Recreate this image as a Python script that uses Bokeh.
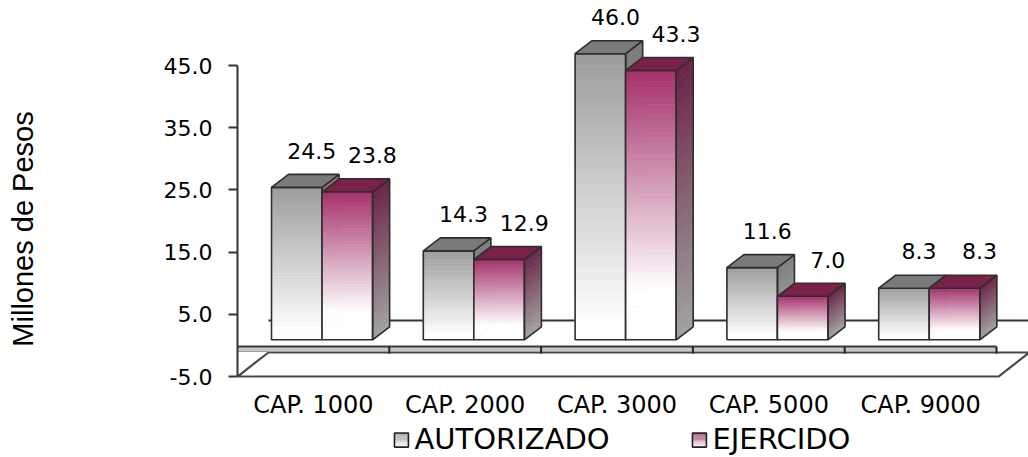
import numpy as np
from bokeh.plotting import figure
from bokeh.models import Range1d, FixedTicker, PrintfTickFormatter
from bokeh.core.properties import value
from bokeh.embed import file_html
from bokeh.resources import INLINE

# ---- data -------------------------------------------------------------
categories = ["CAP. 1000", "CAP. 2000", "CAP. 3000", "CAP. 5000", "CAP. 9000"]
autorizado = [24.5, 14.3, 46.0, 11.6, 8.3]
ejercido = [23.8, 12.9, 43.3, 7.0, 8.3]
series_names = ["AUTORIZADO", "EJERCIDO"]
y_ticks = [-5, 5, 15, 25, 35, 45]
y_title = "Millones de Pesos"

# ---- geometry of the pseudo-3D scene (category units / value units) ---
BAR_OFF = 0.224      # gap between category start and first bar
BAR_W = 0.333        # width of one bar face
DEPTH_X = 0.112      # horizontal depth of a bar
DEPTH_Y = 2.09       # vertical depth of a bar
BASE = 0.9           # where the bar fronts stand on the value scale
FLOOR_DX, FLOOR_DY = 0.204, 3.86
N_STRIPES = 48

WHITE = (255, 255, 255)


def rgb(h):
    h = h.lstrip("#")
    return tuple(int(h[i:i + 2], 16) for i in (0, 2, 4))


def mix(c1, c2, t):
    a, b = rgb(c1) if isinstance(c1, str) else c1, rgb(c2) if isinstance(c2, str) else c2
    t = max(0.0, min(1.0, t))
    return "#%02x%02x%02x" % tuple(int(round(a[i] + (b[i] - a[i]) * t)) for i in range(3))


FONT = value("DejaVu Sans")

p = figure(width=1028, height=457, output_backend="svg", toolbar_location=None,
           x_range=Range1d(0, 791 / 151.8), y_range=Range1d(-18.02, 55.45),
           x_axis_location=None, min_border_left=237, min_border_right=0,
           min_border_top=0, min_border_bottom=0)
p.xgrid.visible = False
p.ygrid.visible = False
p.outline_line_color = None
p.background_fill_color = "white"
p.border_fill_color = "white"

ax = p.yaxis[0]
ax.ticker = FixedTicker(ticks=y_ticks)
ax.formatter = PrintfTickFormatter(format="%.1f")
ax.bounds = (y_ticks[0], y_ticks[-1])
ax.axis_line_color = "#333333"
ax.axis_line_width = 2
ax.major_tick_line_color = "#333333"
ax.major_tick_line_width = 2
ax.major_tick_out = 9
ax.major_tick_in = 0
ax.minor_tick_out = 0
ax.minor_tick_in = 0
ax.major_label_standoff = 16
ax.major_label_text_font = "DejaVu Sans"
ax.major_label_text_font_size = "22px"
ax.major_label_text_color = "#000000"
ax.axis_label = y_title
ax.axis_label_text_font = "Liberation Sans"
ax.axis_label_text_font_size = "29px"
ax.axis_label_text_font_style = "normal"
ax.axis_label_text_color = "#000000"
ax.axis_label_standoff = 122

n = len(categories)
ymin = y_ticks[0]

# ---- floor, axis slab and back wall line ------------------------------
floor_right = n + 0.013
p.patch([0, floor_right, floor_right + FLOOR_DX, FLOOR_DX],
        [ymin, ymin, ymin + FLOOR_DY, ymin + FLOOR_DY],
        fill_color="white", line_color="#4a4a4a", line_width=2.2)
p.quad(left=[0], right=[n], top=[-0.18], bottom=[-0.98],
       fill_color="#c6c6c6", line_color=None)
p.segment(x0=[0], y0=[-0.18], x1=[n], y1=[-0.18], line_color="#3a3a3a", line_width=2)
p.segment(x0=[0], y0=[-0.98], x1=[n], y1=[-0.98], line_color="#a0a0a0", line_width=1)
bounds = list(range(1, n + 1))
p.segment(x0=bounds, y0=[-0.18] * n, x1=bounds, y1=[-1.3] * n,
          line_color="#222222", line_width=2)
p.segment(x0=[FLOOR_DX], y0=[4.0], x1=[6.0], y1=[4.0],
          line_color="#333333", line_width=2)


def draw_series(vals, slot, front_top, fade, side_top, side_bottom, top_color):
    L, R, T, B, C = [], [], [], [], []
    sx, sy, sc = [], [], []
    ox, oy = [], []
    tx, ty = [], []
    for i, v in enumerate(vals):
        x0 = i + BAR_OFF + slot * BAR_W
        x1 = x0 + BAR_W
        top = BASE + v
        for k in range(N_STRIPES):
            hi = top - v * k / N_STRIPES
            lo = top - v * (k + 1) / N_STRIPES
            f = (k + 0.5) / N_STRIPES
            L.append(x0); R.append(x1); T.append(hi); B.append(lo)
            C.append(mix(front_top, WHITE, f / fade))
            sx.append([x1, x1 + DEPTH_X, x1 + DEPTH_X, x1])
            sy.append([lo, lo + DEPTH_Y, hi + DEPTH_Y, hi])
            sc.append(mix(side_top, side_bottom, f))
        ox.append([x1, x1 + DEPTH_X, x1 + DEPTH_X, x1])
        oy.append([BASE, BASE + DEPTH_Y, top + DEPTH_Y, top])
        tx.append([x0, x1, x1 + DEPTH_X, x0 + DEPTH_X])
        ty.append([top, top, top + DEPTH_Y, top + DEPTH_Y])
    p.quad(left=L, right=R, top=T, bottom=B, fill_color=C, line_color=C, line_width=0.8)
    p.patches(xs=sx, ys=sy, fill_color=sc, line_color=sc, line_width=0.8)
    p.quad(left=[i + BAR_OFF + slot * BAR_W for i in range(n)],
           right=[i + BAR_OFF + (slot + 1) * BAR_W for i in range(n)],
           top=[BASE + v for v in vals], bottom=[BASE] * n,
           fill_color=None, line_color="#2e2e2e", line_width=1.6)
    p.patches(xs=ox, ys=oy, fill_color=None, line_color="#2e2e2e", line_width=1.6)
    p.patches(xs=tx, ys=ty, fill_color=top_color, line_color="#2e2e2e", line_width=1.6)


draw_series(autorizado, 0, "#9c9c9c", 0.95, "#7c7c7c", "#ababab", "#7a7a7a")
draw_series(ejercido, 1, "#a4306a", 0.82, "#6a2246", "#a2a2a2", "#7a2149")

# ---- value labels -----------------------------------------------------
lbl_off = 5.9
p.text(x=[i + BAR_OFF + 0.5 * BAR_W + 0.099 for i in range(n)],
       y=[BASE + v + lbl_off for v in autorizado],
       text=["%.1f" % v for v in autorizado], text_font=FONT, text_font_size="22px",
       text_align="center", text_baseline="middle", text_color="#000000")
p.text(x=[i + BAR_OFF + 1.5 * BAR_W + 0.165 for i in range(n)],
       y=[BASE + v + lbl_off for v in ejercido],
       text=["%.1f" % v for v in ejercido], text_font=FONT, text_font_size="22px",
       text_align="center", text_baseline="middle", text_color="#000000")

# ---- category labels --------------------------------------------------
p.text(x=[i + 0.5 for i in range(n)], y=[-9.66] * n, text=categories,
       text_font=FONT, text_font_size="24px", text_align="center",
       text_baseline="middle", text_color="#000000")

# ---- legend -----------------------------------------------------------
leg_x = [1.034, 2.997]
leg_w = 0.092
leg_top, leg_bot = -14.09, -16.35
leg_cols = ["#8f8f8f", "#9a2a5e"]
for lx, col in zip(leg_x, leg_cols):
    m = 12
    p.quad(left=[lx] * m, right=[lx + leg_w] * m,
           top=[leg_top - (leg_top - leg_bot) * k / m for k in range(m)],
           bottom=[leg_top - (leg_top - leg_bot) * (k + 1) / m for k in range(m)],
           fill_color=[mix(col, WHITE, (k + 0.5) / m) for k in range(m)], line_color=None)
    p.quad(left=[lx], right=[lx + leg_w], top=[leg_top], bottom=[leg_bot],
           fill_color=None, line_color="#222222", line_width=1.6)
p.text(x=[x + leg_w + 0.04 for x in leg_x], y=[-15.0, -15.0], text=series_names,
       text_font=FONT, text_font_size="29px", text_align="left",
       text_baseline="middle", text_color="#000000")

open("out.html", "w").write(file_html(p, INLINE))
